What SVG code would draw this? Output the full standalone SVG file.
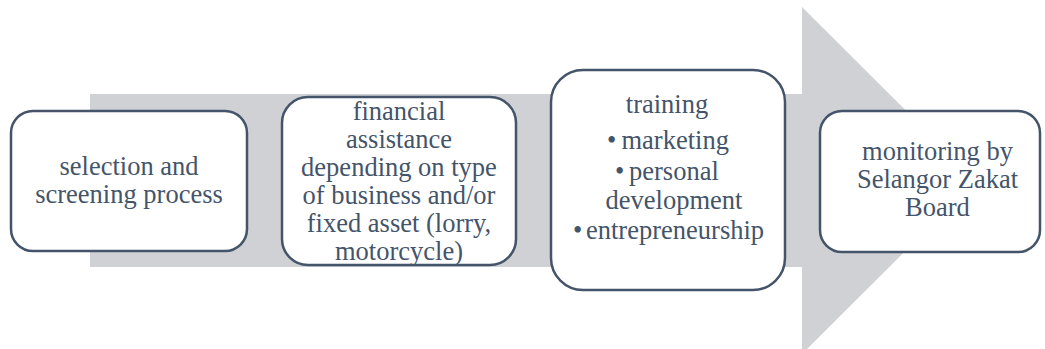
<svg xmlns="http://www.w3.org/2000/svg" width="1045" height="349" viewBox="0 0 1045 349">
<style>
.box{fill:#ffffff;stroke:#44546a;stroke-width:2.5}
.t{font-size:26.5px;fill:#44546a}
.c{text-anchor:middle}
</style>
<rect width="1045" height="349" fill="#ffffff"/>
<g id="connectors">
<path d="M90 94 H802 V7 L976 180.5 L802 354 V267 H90 Z" fill="#d0d1d5"/>
</g>
<g font-family="Liberation Serif, Times New Roman, serif">
<g id="node1">
<rect class="box" x="11" y="111" width="236" height="140" rx="22" ry="22"/>
<text class="t c" x="129" y="175">selection and</text>
<text class="t c" x="129" y="203">screening process</text>
</g>
<g id="node2">
<rect class="box" x="282" y="97" width="234" height="168" rx="26" ry="26"/>
<text class="t c" x="399" y="120">financial</text>
<text class="t c" x="399" y="148">assistance</text>
<text class="t c" x="399" y="176">depending on type</text>
<text class="t c" x="399" y="204">of business and/or</text>
<text class="t c" x="399" y="232">fixed asset (lorry,</text>
<text class="t c" x="399" y="260">motorcycle)</text>
</g>
<g id="node3">
<rect class="box" x="551" y="70" width="234" height="220" rx="32" ry="32"/>
<text class="t c" x="667" y="113">training</text>
<text class="t" x="607" y="149">•</text>
<text class="t" x="621.5" y="149">marketing</text>
<text class="t" x="615" y="180">•</text>
<text class="t" x="629" y="180">personal</text>
<text class="t" x="605.5" y="209">development</text>
<text class="t" x="573" y="239">•</text>
<text class="t" x="586" y="239">entrepreneurship</text>
</g>
<g id="node4">
<rect class="box" x="820" y="111" width="220" height="141" rx="22" ry="22"/>
<text class="t c" x="937.5" y="160">monitoring by</text>
<text class="t c" x="937.5" y="188">Selangor Zakat</text>
<text class="t c" x="937.5" y="216">Board</text>
</g>
</g>
</svg>
